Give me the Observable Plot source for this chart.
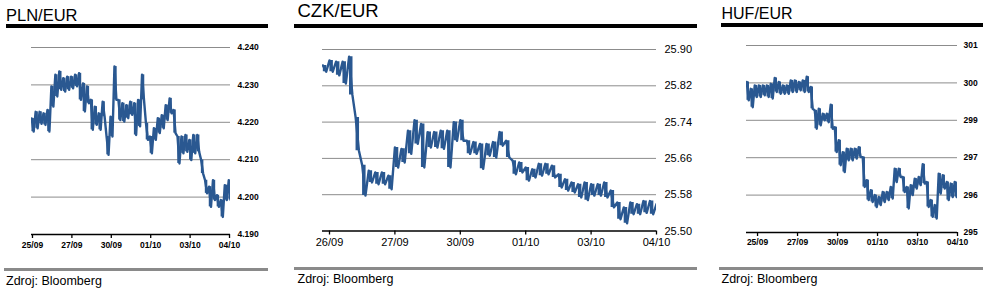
<!DOCTYPE html>
<html>
<head>
<meta charset="utf-8">
<script src="https://cdn.jsdelivr.net/npm/d3@7"></script>
<script src="https://cdn.jsdelivr.net/npm/@observablehq/plot@0.6"></script>
<style>
  html, body { margin: 0; padding: 0; background: #fff; }
  body { width: 998px; height: 296px; position: relative; overflow: hidden; font-family: "Liberation Sans", Arial, sans-serif; color: #000; }
  .abs { position: absolute; }
  .title { position: absolute; line-height: 1; white-space: nowrap; }
  .bar { position: absolute; }
  .src { position: absolute; line-height: 1; font-size: 12.5px; white-space: nowrap; }
</style>
</head>
<body>
<div id="root"></div>
<script>
// ---------- data ----------
const plnTitle = "PLN/EUR", czkTitle = "CZK/EUR", hufTitle = "HUF/EUR";
const sourceText = "Zdroj: Bloomberg";

const plnXLabels = ["25/09", "27/09", "30/09", "01/10", "03/10", "04/10"];
const czkXLabels = ["26/09", "27/09", "30/09", "01/10", "03/10", "04/10"];
const hufXLabels = ["25/09", "27/09", "30/09", "01/10", "03/10", "04/10"];

const plnYTicks = [4.19, 4.20, 4.21, 4.22, 4.23, 4.24];
const plnYLabels = ["4.190", "4.200", "4.210", "4.220", "4.230", "4.240"];
const czkYTicks = [25.50, 25.58, 25.66, 25.74, 25.82, 25.90];
const czkYLabels = ["25.50", "25.58", "25.66", "25.74", "25.82", "25.90"];
const hufYTicks = [295, 296.2, 297.4, 298.6, 299.8, 301];
const hufYLabels = ["295", "296", "297", "299", "300", "301"];

// sampled intraday highs / lows (day index: 0 = first labelled day)
const plnStart = -0.02, plnStep = 0.1;
const plnHigh = [4.2210,4.2228,4.2228,4.2224,4.2233,4.2296,4.2327,4.2336,4.2318,4.2322,4.2322,4.2327,4.2331,4.2304,4.2296,4.2260,4.2242,4.2224,4.2255,4.2162,4.2215,4.2349,4.2260,4.2251,4.2246,4.2255,4.2251,4.2260,4.2327,4.2197,4.2162,4.2184,4.2211,4.2219,4.2246,4.2264,4.2233,4.2162,4.2162,4.2166,4.2153,4.2166,4.2166,4.2099,4.2045,4.2028,4.2045,4.2005,4.1992,4.2032,4.2045];
const plnLow  = [4.2175,4.2184,4.2196,4.2193,4.2175,4.2242,4.2269,4.2287,4.2282,4.2287,4.2291,4.2296,4.2260,4.2229,4.2251,4.2180,4.2193,4.2180,4.2215,4.2113,4.2162,4.2260,4.2206,4.2202,4.2211,4.2220,4.2166,4.2189,4.2260,4.2153,4.2117,4.2153,4.2171,4.2184,4.2206,4.2224,4.2171,4.2090,4.2117,4.2121,4.2099,4.2117,4.2121,4.2063,4.2010,4.1974,4.1992,4.1974,4.1947,4.1992,4.1992];

const czkStart = -0.1, czkStep = 0.1;
const czkHigh = [25.865,25.876,25.873,25.873,25.884,25.750,25.645,25.633,25.629,25.629,25.622,25.684,25.681,25.721,25.744,25.736,25.718,25.718,25.721,25.721,25.740,25.744,25.699,25.696,25.692,25.692,25.696,25.718,25.699,25.655,25.651,25.640,25.636,25.648,25.648,25.644,25.625,25.614,25.607,25.603,25.607,25.603,25.603,25.607,25.589,25.563,25.552,25.563,25.559,25.566,25.566,25.559];
const czkLow  = [25.851,25.851,25.843,25.825,25.800,25.677,25.578,25.607,25.603,25.603,25.592,25.640,25.651,25.670,25.692,25.640,25.684,25.684,25.681,25.640,25.699,25.699,25.670,25.670,25.637,25.666,25.662,25.688,25.662,25.625,25.629,25.611,25.618,25.622,25.625,25.618,25.596,25.589,25.585,25.574,25.568,25.578,25.578,25.574,25.552,25.526,25.517,25.537,25.537,25.540,25.537,25.540];

const hufStart = -0.27, hufStep = 0.1;
const hufHigh = [299.83,299.61,299.72,299.72,299.72,299.72,299.77,299.96,299.83,299.72,299.72,299.88,299.88,299.83,299.88,300.00,299.67,298.92,298.97,298.81,298.81,299.10,298.38,297.96,297.58,297.69,297.69,297.69,297.74,297.42,296.68,296.36,296.20,296.14,296.30,296.30,296.46,297.05,297.05,296.78,296.46,296.52,296.73,296.78,297.19,296.62,296.04,295.88,296.89,296.84,296.62,296.57,296.62];
const hufLow  = [299.24,299.02,299.35,299.35,299.40,299.35,299.30,299.51,299.45,299.45,299.45,299.51,299.51,299.56,299.51,299.51,298.97,298.33,298.44,298.60,298.54,298.33,297.58,297.16,296.94,297.32,297.32,297.37,297.42,296.46,296.04,295.98,295.82,295.88,295.98,296.04,296.09,296.62,296.78,296.30,295.77,296.20,296.41,296.52,296.57,295.82,295.50,295.45,296.25,296.41,296.04,296.14,296.14];

// ---------- rendering ----------
const BLUE = "#2a5891";
const GRID = "#8c8c8c";
const FONT = '"Liberation Sans", Arial, sans-serif';

function zigzag(start, step, hi, lo) {
  const rows = [];
  hi.forEach((h, i) => {
    rows.push({t: start + i * step, v: h});
    rows.push({t: start + (i + 0.5) * step, v: lo[i]});
  });
  return rows;
}
function columns(start, step, hi, lo) {
  return hi.map((h, i) => ({t: start + (i + 0.25) * step, hi: h, lo: lo[i]}));
}

function addDiv(cls, text, style) {
  const d = document.createElement("div");
  d.className = cls;
  if (text) d.textContent = text;
  Object.assign(d.style, style);
  document.body.appendChild(d);
  return d;
}

function panel(cfg) {
  addDiv("title", cfg.title, {left: cfg.titleX + "px", top: cfg.titleTop + "px", fontSize: cfg.titleSize + "px"});
  addDiv("bar", "", {left: cfg.barX1 + "px", width: (cfg.barX2 - cfg.barX1) + "px", top: cfg.blackTop + "px", height: "4px", background: "#000"});
  addDiv("bar", "", {left: cfg.greyX1 + "px", width: (cfg.barX2 - cfg.greyX1) + "px", top: cfg.greyTop + "px", height: "3px", background: "#8a8a8a"});
  addDiv("src", sourceText, {left: cfg.titleX + "px", top: cfg.srcTop + "px"});

  const zz = zigzag(cfg.start, cfg.step, cfg.hi, cfg.lo);
  const cols = columns(cfg.start, cfg.step, cfg.hi, cfg.lo);
  const yMin = cfg.yTicks[0];
  const chart = Plot.plot({
    width: cfg.width,
    height: cfg.height,
    marginLeft: cfg.mL, marginRight: cfg.mR, marginTop: cfg.mT, marginBottom: cfg.mB,
    x: {domain: cfg.xDomain, label: null},
    y: {domain: [cfg.yTicks[0], cfg.yTicks[cfg.yTicks.length - 1]], label: null},
    style: {fontFamily: FONT, fontSize: cfg.fontSize + "px", fontWeight: cfg.fontWeight, color: "#000", background: "transparent", overflow: "visible"},
    marks: [
      Plot.ruleY(cfg.yTicks.slice(1), {stroke: GRID, strokeWidth: 1}),
      Plot.ruleX(cols, {x: "t", y1: "lo", y2: "hi", stroke: BLUE, strokeWidth: cfg.colW, clip: true}),
      Plot.line(zz, {x: "t", y: "v", stroke: BLUE, strokeWidth: 2.4, clip: true}),
      Plot.ruleY([yMin], {stroke: "#000", strokeWidth: 1.5}),
      Plot.axisX([0, 1, 2, 3, 4, 5], {label: null, tickSize: 4, tickPadding: cfg.xPad, stroke: "#000", strokeWidth: 1.3, tickFormat: d => cfg.xLabels[d]}),
      Plot.axisY(cfg.yTicks, {label: null, anchor: "right", tickSize: 0, tickPadding: cfg.yPad, tickFormat: d => cfg.yLabels[cfg.yTicks.indexOf(d)]})
    ]
  });
  const wrap = document.createElement("div");
  wrap.className = "abs";
  wrap.style.left = cfg.left + "px";
  wrap.style.top = cfg.top + "px";
  wrap.appendChild(chart);
  document.body.appendChild(wrap);
}

panel({
  title: plnTitle, titleX: 6, titleTop: 7, titleSize: 16.5,
  barX1: 6, greyX1: 4, barX2: 268, blackTop: 24, greyTop: 268, srcTop: 274.5,
  left: 0, top: 30, width: 270, height: 230, mL: 31, mR: 40, mT: 17, mB: 26,
  xDomain: [-0.025, 5.025], yTicks: plnYTicks, yLabels: plnYLabels, xLabels: plnXLabels,
  start: plnStart, step: plnStep, hi: plnHigh, lo: plnLow, colW: 2.5,
  fontSize: 8.5, fontWeight: "bold", xPad: 3.5, yPad: 7
});

panel({
  title: czkTitle, titleX: 297.5, titleTop: 1.8, titleSize: 18.5,
  barX1: 294, greyX1: 294, barX2: 697, blackTop: 24, greyTop: 266.5, srcTop: 273.4,
  left: 290, top: 30, width: 410, height: 230, mL: 32, mR: 44, mT: 19, mB: 29.5,
  xDomain: [-0.107, 5.0], yTicks: czkYTicks, yLabels: czkYLabels, xLabels: czkXLabels,
  start: czkStart, step: czkStep, hi: czkHigh, lo: czkLow, colW: 3.5,
  fontSize: 11, fontWeight: "normal", xPad: 3, yPad: 8
});

panel({
  title: hufTitle, titleX: 721.5, titleTop: 6, titleSize: 16,
  barX1: 721, greyX1: 719, barX2: 983, blackTop: 22.5, greyTop: 266.5, srcTop: 273.4,
  left: 715, top: 30, width: 283, height: 230, mL: 31, mR: 41, mT: 15, mB: 28,
  xDomain: [-0.276, 5.0], yTicks: hufYTicks, yLabels: hufYLabels, xLabels: hufXLabels,
  start: hufStart, step: hufStep, hi: hufHigh, lo: hufLow, colW: 2.5,
  fontSize: 8.5, fontWeight: "bold", xPad: 2, yPad: 6
});
</script>
</body>
</html>
